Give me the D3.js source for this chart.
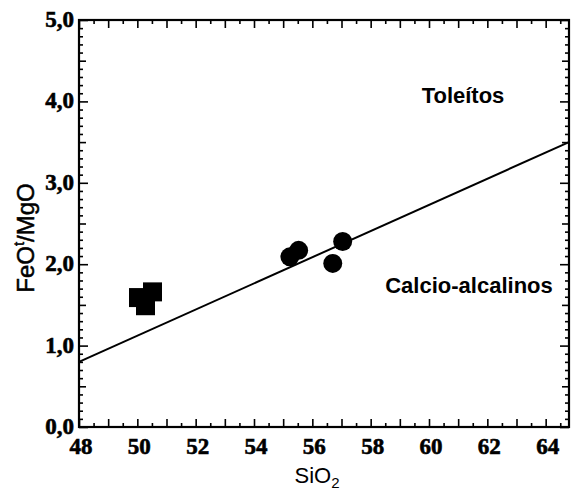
<!DOCTYPE html>
<html>
<head>
<meta charset="utf-8">
<script src="https://cdn.jsdelivr.net/npm/d3@7"></script>
<style>
  body { margin: 0; background: #fff; }
  svg { display: block; }
</style>
</head>
<body>
<svg id="chart" width="573" height="490"></svg>
<script>
// data
var squareSiO2 = [50.04, 50.52, 50.28];
var squareFeO  = [1.59, 1.66, 1.49];
var circleSiO2 = [55.23, 55.53, 57.04, 56.70];
var circleFeO  = [2.09, 2.17, 2.28, 2.01];
var lineSiO2 = [48, 64.8];
var lineFeO  = [0.80, 3.50];
var xLabels = [48, 50, 52, 54, 56, 58, 60, 62, 64];
var yLabels = [0, 1, 2, 3, 4, 5];

var svg = d3.select('#chart');

var xScale = d3.scaleLinear().domain([48, 64.8]).range([79, 569]);
var yScale = d3.scaleLinear().domain([0, 5]).range([427, 20]);

var xMajor = d3.range(48, 65, 1);
var xMinor = d3.range(48.5, 64.8, 1);
var yMajor = d3.range(0, 5.01, 1);
var yMid = d3.range(0.5, 5, 1);
var yMinor = d3.range(0, 50).map(function(i){ return i/10; })
                .filter(function(v){ return Math.round(v*10) % 5 != 0; });

function tickAxis(axisFn, scale, vals, size, transform){
    var g = svg.append('g')
        .attr('transform', transform)
        .call(axisFn(scale).tickValues(vals).tickSize(-size).tickFormat('').tickSizeOuter(0));
    g.select('.domain').remove();
    g.selectAll('.tick line').attr('stroke', '#000').attr('stroke-width', 1.6);
    return g;
}

// bottom + top
tickAxis(d3.axisBottom, xScale, xMajor, 8, 'translate(0,427)');
tickAxis(d3.axisBottom, xScale, xMinor, 4, 'translate(0,427)');
tickAxis(d3.axisTop, xScale, xMajor, 8, 'translate(0,20)');
tickAxis(d3.axisTop, xScale, xMinor, 4, 'translate(0,20)');
// left + right
tickAxis(d3.axisLeft, yScale, yMajor, 9, 'translate(79,0)');
tickAxis(d3.axisLeft, yScale, yMid, 7, 'translate(79,0)');
tickAxis(d3.axisLeft, yScale, yMinor, 4, 'translate(79,0)');
tickAxis(d3.axisRight, yScale, yMajor, 9, 'translate(569,0)');
tickAxis(d3.axisRight, yScale, yMid, 7, 'translate(569,0)');
tickAxis(d3.axisRight, yScale, yMinor, 4, 'translate(569,0)');

// frame
svg.append('rect')
    .attr('x', xScale(48)).attr('y', yScale(5))
    .attr('width', xScale(64.8) - xScale(48))
    .attr('height', yScale(0) - yScale(5))
    .attr('fill', 'none').attr('stroke', '#000').attr('stroke-width', 2.2);

// tick labels
svg.append('g').selectAll('text')
    .data(xLabels).enter().append('text')
    .attr('x', function(d){ return xScale(d) + 2; })
    .attr('y', 454)
    .attr('text-anchor', 'middle')
    .attr('font-family', '"Liberation Serif", "Times New Roman", serif')
    .attr('font-weight', 'bold')
    .attr('font-size', '23px')
    .attr('stroke', '#000').attr('stroke-width', 0.6)
    .text(function(d){ return d; });

svg.append('g').selectAll('text')
    .data(yLabels).enter().append('text')
    .attr('x', 74)
    .attr('y', function(d){ return yScale(d) + 7; })
    .attr('text-anchor', 'end')
    .attr('font-family', '"Liberation Serif", "Times New Roman", serif')
    .attr('font-weight', 'bold')
    .attr('font-size', '23px')
    .attr('stroke', '#000').attr('stroke-width', 0.6)
    .text(function(d){ return d.toFixed(1).replace('.', ','); });

// boundary line
var lineData = lineSiO2.map(function(d, i){ return [d, lineFeO[i]]; });
svg.append('path')
    .datum(lineData)
    .attr('d', d3.line().x(function(d){ return xScale(d[0]); }).y(function(d){ return yScale(d[1]); }))
    .attr('fill', 'none').attr('stroke', '#000').attr('stroke-width', 2);

// samples
var sq = 19;
svg.append('g').selectAll('rect')
    .data(squareSiO2).enter().append('rect')
    .attr('x', function(d){ return xScale(d) - sq/2; })
    .attr('y', function(d, i){ return yScale(squareFeO[i]) - sq/2; })
    .attr('width', sq).attr('height', sq)
    .attr('fill', '#000');

svg.append('g').selectAll('circle')
    .data(circleSiO2).enter().append('circle')
    .attr('cx', function(d){ return xScale(d); })
    .attr('cy', function(d, i){ return yScale(circleFeO[i]); })
    .attr('r', 9.5)
    .attr('fill', '#000');

// field labels
svg.append('text')
    .attr('x', 463).attr('y', 103)
    .attr('text-anchor', 'middle')
    .attr('font-family', '"Liberation Sans", Arial, sans-serif')
    .attr('font-weight', 'bold').attr('font-size', '22px')
    .text('Toleítos');

svg.append('text')
    .attr('x', 469).attr('y', 293)
    .attr('text-anchor', 'middle')
    .attr('font-family', '"Liberation Sans", Arial, sans-serif')
    .attr('font-weight', 'bold').attr('font-size', '22px')
    .text('Calcio-alcalinos');

// axis titles
var xt = svg.append('text')
    .attr('x', 317).attr('y', 483)
    .attr('text-anchor', 'middle')
    .attr('font-family', '"Liberation Sans", Arial, sans-serif')
    .attr('font-size', '22px');
xt.append('tspan').text('SiO');
xt.append('tspan').attr('font-size', '15px').attr('dy', 5).text('2');

var yt = svg.append('text')
    .attr('transform', 'translate(34,238) rotate(-90)')
    .attr('text-anchor', 'middle')
    .attr('font-family', '"Liberation Sans", Arial, sans-serif')
    .attr('font-size', '24px')
    .attr('stroke', '#000').attr('stroke-width', 0.5);
yt.append('tspan').text('FeO');
yt.append('tspan').attr('font-size', '15px').attr('dy', -10).text('t');
yt.append('tspan').attr('dy', 10).text('/MgO');
</script>
</body>
</html>
